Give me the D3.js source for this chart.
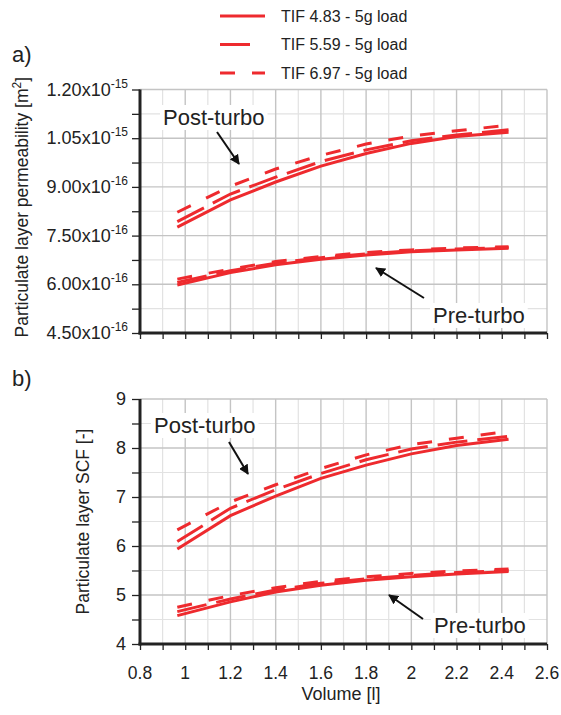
<!DOCTYPE html>
<html>
<head>
<meta charset="utf-8">
<script src="https://cdn.jsdelivr.net/npm/d3@7"></script>
<style>
	body { margin: 0; background: #fff; }
	text { font-family: "Liberation Sans", Arial, sans-serif; fill: #222; }
</style>
</head>
<body>
<div id="chart"></div>
<script>

// data
// ----------------------------------------

var volume = [0.965, 1.2, 1.4, 1.6, 1.8, 2.0, 2.2, 2.43];

var series_names = ["TIF 4.83 - 5g load", "TIF 5.59 - 5g load", "TIF 6.97 - 5g load"];

// permeability, x10^-16 m2
var perm_post_483 = [7.76, 8.60, 9.15, 9.64, 10.03, 10.34, 10.55, 10.68];
var perm_post_559 = [7.93, 8.78, 9.30, 9.78, 10.14, 10.42, 10.60, 10.76];
var perm_post_697 = [8.22, 9.02, 9.55, 9.97, 10.32, 10.57, 10.73, 10.90];
var perm_pre_483 = [5.98, 6.36, 6.60, 6.77, 6.90, 7.00, 7.06, 7.11];
var perm_pre_559 = [6.06, 6.42, 6.65, 6.82, 6.94, 7.03, 7.09, 7.13];
var perm_pre_697 = [6.16, 6.47, 6.70, 6.86, 6.98, 7.06, 7.12, 7.16];

// SCF
var scf_post_483 = [5.94, 6.62, 7.02, 7.38, 7.65, 7.88, 8.05, 8.18];
var scf_post_559 = [6.09, 6.77, 7.15, 7.48, 7.76, 7.98, 8.12, 8.24];
var scf_post_697 = [6.33, 6.90, 7.25, 7.58, 7.86, 8.07, 8.20, 8.34];
var scf_pre_483 = [4.58, 4.86, 5.06, 5.20, 5.30, 5.37, 5.43, 5.48];
var scf_pre_559 = [4.66, 4.92, 5.10, 5.24, 5.33, 5.40, 5.46, 5.50];
var scf_pre_697 = [4.75, 4.99, 5.15, 5.28, 5.37, 5.44, 5.49, 5.53];

var x_ticks = [0.8, 1, 1.2, 1.4, 1.6, 1.8, 2, 2.2, 2.4, 2.6];
var perm_ticks = [4.5, 6.0, 7.5, 9.0, 10.5, 12.0];
var perm_labels = [["4.50x10", "-16"], ["6.00x10", "-16"], ["7.50x10", "-16"], ["9.00x10", "-16"], ["1.05x10", "-15"], ["1.20x10", "-15"]];
var scf_ticks = [4, 5, 6, 7, 8, 9];

// main variables
// ----------------------------------------

var width = 561, height = 715;
var red = "#ee2a2e";
var dashes = [null, "30,10", "15,17"];

var svg = d3.select("#chart")
	.append("svg")
	.attr("width", width)
	.attr("height", height);

var defs = svg.append("defs");
defs.append("marker")
	.attr("id", "arrow")
	.attr("viewBox", "0 0 10 10")
	.attr("refX", 9).attr("refY", 5)
	.attr("markerWidth", 5).attr("markerHeight", 5)
	.attr("markerUnits", "strokeWidth")
	.attr("orient", "auto")
	.append("path")
	.attr("d", "M0,0 L10,5 L0,10 z")
	.attr("fill", "#111");

var x = d3.scaleLinear().domain([0.8, 2.6]).range([140, 547]);

var y_perm = d3.scaleLinear().domain([4.5, 12]).range([333, 89.5]);
var y_scf = d3.scaleLinear().domain([4, 9]).range([644, 399]);

// panels
// ----------------------------------------

function panel(y, yticks, step, groups, notes) {
	var g = svg.append("g");
	var x0 = x.range()[0], x1 = x.range()[1];
	var ytop = y.range()[1], ybot = y.range()[0];

	// minor grid
	d3.range(0.9, 2.6, 0.2).forEach(function(v){
		g.append("line").attr("x1", x(v)).attr("x2", x(v)).attr("y1", ytop).attr("y2", ybot)
			.attr("stroke", "#e2e2e2").attr("stroke-width", 1.2);
	})
	yticks.slice(0, -1).forEach(function(v){
		g.append("line").attr("x1", x0).attr("x2", x1).attr("y1", y(v + step / 2)).attr("y2", y(v + step / 2))
			.attr("stroke", "#e2e2e2").attr("stroke-width", 1.2);
	})
	// major grid
	x_ticks.forEach(function(v){
		g.append("line").attr("x1", x(v)).attr("x2", x(v)).attr("y1", ytop).attr("y2", ybot)
			.attr("stroke", "#c4c4c4").attr("stroke-width", 1.4);
	})
	yticks.forEach(function(v){
		g.append("line").attr("x1", x0).attr("x2", x1).attr("y1", y(v)).attr("y2", y(v))
			.attr("stroke", "#c4c4c4").attr("stroke-width", 1.4);
	})

	// axes
	var minor_y = [];
	yticks.forEach(function(v, i){
		minor_y.push(v);
		if (i < yticks.length - 1) minor_y.push(v + step / 2);
	})
	var ax_y = g.append("g")
		.attr("transform", "translate(" + x0 + ",0)")
		.call(d3.axisLeft(y).tickValues(minor_y).tickSize(8).tickFormat(""));
	var ax_x = g.append("g")
		.attr("transform", "translate(0," + ybot + ")")
		.call(d3.axisBottom(x).tickValues(d3.range(8, 27).map(function(d){ return d / 10; })).tickSize(6).tickFormat(""));
	[ax_y, ax_x].forEach(function(a){
		a.select(".domain").remove();
		a.selectAll(".tick text").remove();
		a.selectAll(".tick line").attr("stroke", "#222").attr("stroke-width", 1.3);
	})
	g.append("line").attr("x1", x0).attr("x2", x0).attr("y1", ytop).attr("y2", ybot + 1.5)
		.attr("stroke", "#222").attr("stroke-width", 3);
	g.append("line").attr("x1", x0 - 1.5).attr("x2", x1).attr("y1", ybot).attr("y2", ybot)
		.attr("stroke", "#222").attr("stroke-width", 3);

	// lines
	var line = d3.line()
		.x(function(d, i){ return x(volume[i]); })
		.y(function(d){ return y(d); });

	groups.forEach(function(set){
		set.forEach(function(values, k){
			g.append("path")
				.attr("d", line(values))
				.attr("fill", "none")
				.attr("stroke", red)
				.attr("stroke-width", 3)
				.attr("stroke-dasharray", dashes[k]);
		})
	})

	// annotations
	notes.forEach(function(n){
		var box = g.append("rect").attr("fill", "#fff");
		var t = g.append("text")
			.attr("x", n.tx).attr("y", n.ty)
			.attr("font-size", 22)
			.text(n.label);
		var bb = t.node().getBBox();
		box.attr("x", bb.x - 3).attr("y", bb.y).attr("width", bb.width + 6).attr("height", bb.height);
		g.append("line")
			.attr("x1", n.ax1).attr("y1", n.ay1).attr("x2", n.ax2).attr("y2", n.ay2)
			.attr("stroke", "#111").attr("stroke-width", 2)
			.attr("marker-end", "url(#arrow)");
	})
	return g;
}

var top_panel = panel(y_perm, perm_ticks, 1.5,
	[[perm_post_483, perm_post_559, perm_post_697], [perm_pre_483, perm_pre_559, perm_pre_697]],
	[
		{label: "Post-turbo", tx: 163, ty: 125, ax1: 217, ay1: 132, ax2: 239, ay2: 164},
		{label: "Pre-turbo", tx: 433, ty: 323, ax1: 424, ay1: 298, ax2: 376, ay2: 268}
	]);

var bottom_panel = panel(y_scf, scf_ticks, 1,
	[[scf_post_483, scf_post_559, scf_post_697], [scf_pre_483, scf_pre_559, scf_pre_697]],
	[
		{label: "Post-turbo", tx: 154, ty: 433, ax1: 229, ay1: 442, ax2: 248, ay2: 474},
		{label: "Pre-turbo", tx: 434, ty: 633, ax1: 423, ay1: 619, ax2: 389, ay2: 595}
	]);

// tick labels
// ----------------------------------------

perm_ticks.forEach(function(v, i){
	var t = svg.append("text")
		.attr("x", 128).attr("y", y_perm(v) + 6)
		.attr("text-anchor", "end")
		.attr("font-size", 18);
	t.append("tspan").text(perm_labels[i][0]);
	t.append("tspan").attr("dy", -8).attr("font-size", 12).text(perm_labels[i][1]);
})

scf_ticks.forEach(function(v){
	svg.append("text")
		.attr("x", 126).attr("y", y_scf(v) + 6)
		.attr("text-anchor", "end")
		.attr("font-size", 18)
		.text(v);
})

x_ticks.forEach(function(v){
	svg.append("text")
		.attr("x", x(v)).attr("y", 679)
		.attr("text-anchor", "middle")
		.attr("font-size", 17.5)
		.text(v);
})

svg.append("text")
	.attr("x", 341).attr("y", 700)
	.attr("text-anchor", "middle")
	.attr("font-size", 18)
	.text("Volume [l]");

// axis titles
var yt1 = svg.append("text")
	.attr("transform", "translate(28," + ((89.5 + 333) / 2 - 4) + ") rotate(-90)")
	.attr("text-anchor", "middle")
	.attr("font-size", 17.5);
yt1.append("tspan").text("Particulate layer permeability [m");
yt1.append("tspan").attr("dy", -7).attr("font-size", 12).text("2");
yt1.append("tspan").attr("dy", 7).text("]");

svg.append("text")
	.attr("transform", "translate(89," + ((399 + 644) / 2) + ") rotate(-90)")
	.attr("text-anchor", "middle")
	.attr("font-size", 17.5)
	.text("Particulate layer SCF [-]");

svg.append("text").attr("x", 12).attr("y", 62).attr("font-size", 22).text("a)");
svg.append("text").attr("x", 12).attr("y", 386).attr("font-size", 22).text("b)");

// legend
// ----------------------------------------

var legend = svg.append("g").attr("class", "legend");
series_names.forEach(function(name, k){
	var ly = 16 + k * 28.5;
	legend.append("line")
		.attr("x1", 220).attr("x2", 265).attr("y1", ly).attr("y2", ly)
		.attr("stroke", red).attr("stroke-width", 3)
		.attr("stroke-dasharray", k == 1 ? "30,15" : dashes[k]);
	legend.append("text")
		.attr("x", 281).attr("y", ly + 5.5)
		.attr("font-size", 16)
		.text(name);
})

</script>
</body>
</html>
